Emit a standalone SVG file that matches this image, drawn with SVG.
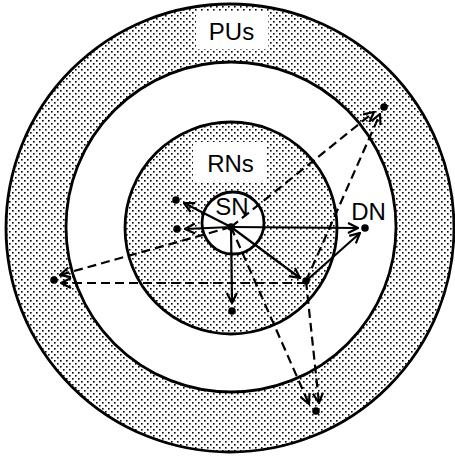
<svg xmlns="http://www.w3.org/2000/svg" width="455" height="457" viewBox="0 0 455 457">
<defs>
<pattern id="dots" width="6" height="6" patternUnits="userSpaceOnUse">
<rect x="0" y="0" width="6" height="6" fill="#fff"/>
<rect x="0" y="0" width="1.6" height="1.6" fill="#000"/>
<rect x="3" y="3" width="1.6" height="1.6" fill="#000"/>
</pattern>
<marker id="arr" markerWidth="12" markerHeight="12" viewBox="0 0 12 12" refX="11" refY="6" orient="auto" markerUnits="userSpaceOnUse">
<path d="M1,1 L11,6 L1,11" fill="none" stroke="#000" stroke-width="2.2" stroke-dasharray="none"/>
</marker>
<style>
.ring{stroke:#000;stroke-width:2.8}
.lbl{font-family:"Liberation Sans",Arial,sans-serif;font-size:24px;fill:#000;text-anchor:middle}
.solid{stroke:#000;stroke-width:2.2;fill:none;marker-end:url(#arr)}
.dash{stroke:#000;stroke-width:2.2;fill:none;stroke-dasharray:9 5;marker-end:url(#arr)}
.dot{fill:#000}
</style>
</defs>
<g id="zones">
<circle class="ring" cx="230" cy="228" r="224" fill="url(#dots)"/>
<circle class="ring" cx="231" cy="227" r="165" fill="#fff"/>
<circle class="ring" cx="231" cy="228" r="106" fill="url(#dots)"/>
<circle class="ring" cx="233" cy="223" r="31" fill="#fff"/>
</g>
<g id="label-PUs">
<rect x="196" y="12" width="72" height="37" fill="#fff"/>
<text class="lbl" x="231.5" y="40">PUs</text>
</g>
<g id="label-RNs">
<rect x="193" y="142" width="73" height="41" fill="#fff"/>
<text class="lbl" x="230.5" y="172">RNs</text>
</g>
<g id="connectors">
<line class="solid" x1="231" y1="227" x2="184" y2="203"/>
<line class="solid" x1="231" y1="227" x2="185" y2="229"/>
<line class="solid" x1="231" y1="227" x2="358" y2="228"/>
<line class="solid" x1="231" y1="227" x2="232" y2="303"/>
<line class="solid" x1="231" y1="227" x2="300" y2="278"/>
<line class="solid" x1="306" y1="281" x2="360" y2="233"/>
<line class="dash" x1="231" y1="227" x2="374" y2="112"/>
<line class="dash" x1="306" y1="281" x2="380" y2="114"/>
<line class="dash" x1="231" y1="227" x2="60" y2="275"/>
<line class="dash" x1="306" y1="283" x2="61" y2="283"/>
<line class="dash" x1="231" y1="227" x2="309" y2="404"/>
<line class="dash" x1="306" y1="281" x2="319" y2="403"/>
</g>
<g id="node-SN">
<text class="lbl" x="232" y="215">SN</text>
<circle class="dot" cx="231" cy="227" r="3.8"/>
</g>
<g id="node-DN">
<rect x="346" y="198" width="44" height="24" fill="#fff"/>
<text class="lbl" x="368.5" y="220">DN</text>
<circle class="dot" cx="365" cy="228" r="3.8"/>
</g>
<g id="node-R1"><circle class="dot" cx="176" cy="200" r="3.8"/></g>
<g id="node-R2"><circle class="dot" cx="177" cy="229" r="3.8"/></g>
<g id="node-R3"><circle class="dot" cx="232" cy="311" r="3.8"/></g>
<g id="node-R4"><circle class="dot" cx="306" cy="281" r="3.8"/></g>
<g id="node-PU1"><circle class="dot" cx="384" cy="107" r="3.8"/></g>
<g id="node-PU2"><circle class="dot" cx="54" cy="280" r="3.8"/></g>
<g id="node-PU3"><circle class="dot" cx="316" cy="411" r="3.8"/></g>
</svg>
